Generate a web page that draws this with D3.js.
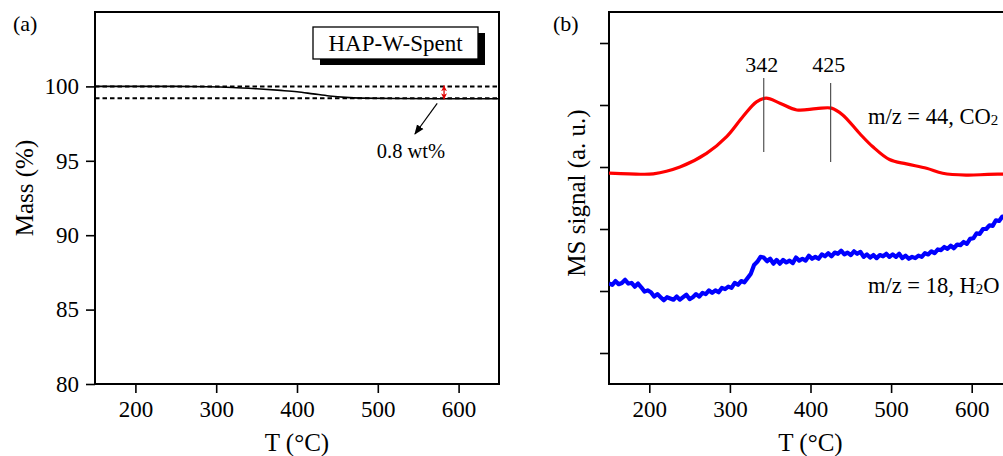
<!DOCTYPE html>
<html>
<head>
<meta charset="utf-8">
<script src="https://cdn.jsdelivr.net/npm/d3@7"></script>
<style>
  html, body { margin: 0; padding: 0; background: #fff; }
  svg { display: block; }
  text { font-family: "Liberation Serif", "Times New Roman", serif; fill: #000; }
</style>
</head>
<body>
<svg id="chart" width="1003" height="456"></svg>
<script>
// ---------------- DATA ----------------
const xTickValues = [200, 300, 400, 500, 600];
const massTickValues = [80, 85, 90, 95, 100];
const msTickValues = [1, 2, 3, 4, 5, 6];

// Panel (a): TGA mass curve
const massT = [150, 250, 290, 320, 350, 380, 400, 420, 440, 460, 480, 520, 600, 650];
const massV = [100.0, 100.0, 99.98, 99.93, 99.84, 99.73, 99.64, 99.50, 99.36, 99.26, 99.21, 99.19, 99.17, 99.17];
const massLevels = [100, 99.2];
const lossLabel = "0.8 wt%";
const sampleName = "HAP-W-Spent";

// Panel (b): MS signals
const co2T = [150, 175, 205, 238, 271, 296, 316, 333, 345, 362, 383, 407, 426, 440, 461, 477, 498, 519, 544, 564, 593, 620, 650];
const co2V = [3.90, 3.89, 3.89, 4.00, 4.22, 4.49, 4.81, 5.05, 5.11, 5.03, 4.92, 4.94, 4.95, 4.84, 4.54, 4.33, 4.12, 4.05, 3.98, 3.90, 3.87, 3.88, 3.89];

const h2oT = [150,154,158,162,166,170,174,178,182,186,190,194,198,202,206,210,214,218,222,226,
  230,234,238,242,246,250,254,258,262,266,270,274,278,282,286,290,294,298,302,306,310,314,318,
  322,326,330,334,338,342,346,350,354,358,362,366,370,374,378,382,386,390,394,398,402,406,410,
  414,418,422,426,430,434,438,442,446,450,454,458,462,466,470,474,478,482,486,490,494,498,502,
  506,510,514,518,522,526,530,534,538,542,546,550,554,558,562,566,570,574,578,582,586,590,594,
  598,602,606,610,614,618,622,626,630,634,638,642,646,650];
const h2oV = [2.12,2.10,2.16,2.11,2.13,2.18,2.12,2.13,2.07,2.12,2.06,1.99,2.01,1.98,1.91,1.95,1.90,1.85,1.90,1.88,
  1.86,1.91,1.86,1.90,1.94,1.87,1.90,1.95,1.91,1.97,1.95,2.01,1.97,2.01,1.98,2.05,2.03,2.07,2.05,2.13,2.10,2.16,2.14,
  2.21,2.28,2.42,2.47,2.55,2.54,2.48,2.52,2.44,2.50,2.44,2.50,2.46,2.49,2.45,2.54,2.49,2.52,2.49,2.57,2.52,2.55,2.52,
  2.59,2.56,2.61,2.56,2.62,2.60,2.65,2.59,2.62,2.58,2.64,2.60,2.63,2.55,2.59,2.54,2.58,2.53,2.58,2.56,2.60,2.55,2.59,
  2.55,2.60,2.53,2.57,2.52,2.55,2.53,2.57,2.55,2.61,2.59,2.64,2.61,2.67,2.66,2.71,2.68,2.73,2.69,2.75,2.74,2.79,2.76,
  2.84,2.85,2.93,2.92,3.00,3.00,3.06,3.05,3.14,3.13,3.20,3.19,3.27,3.26];

const peakTemps = [342, 425];
const co2Label = ["m/z = 44, CO", "2", ""];
const h2oLabel = ["m/z = 18, H", "2", "O"];

// ---------------- DRAWING ----------------
const svg = d3.select("#chart");
const tickFont = 23, titleFont = 25;

const defs = svg.append("defs");
defs.append("marker").attr("id", "redHead").attr("viewBox", "0 0 10 10")
  .attr("refX", 10).attr("refY", 5).attr("markerUnits", "userSpaceOnUse")
  .attr("markerWidth", 6).attr("markerHeight", 7)
  .attr("orient", "auto-start-reverse")
  .append("path").attr("d", "M0,0 L10,5 L0,10 L3,5 Z").attr("fill", "#e00000");
defs.append("marker").attr("id", "blackHead").attr("viewBox", "0 0 10 10")
  .attr("refX", 9).attr("refY", 5).attr("markerUnits", "userSpaceOnUse")
  .attr("markerWidth", 10).attr("markerHeight", 10)
  .attr("orient", "auto")
  .append("path").attr("d", "M0,1 L10,5 L0,9 Z").attr("fill", "#000");

function panel(opts) {
  const { left, right, top, bottom, xDomain, yDomain, yTicks, yLabels, clipId } = opts;
  const x = d3.scaleLinear().domain(xDomain).range([left, right]);
  const y = d3.scaleLinear().domain(yDomain).range([bottom, top]);
  const g = svg.append("g");

  defs.append("clipPath").attr("id", clipId)
    .append("rect").attr("x", left).attr("y", top).attr("width", right - left).attr("height", bottom - top);

  const xAxis = g.append("g").attr("transform", `translate(0,${bottom})`)
    .call(d3.axisBottom(x).tickValues(xTickValues).tickSize(9).tickSizeOuter(0).tickPadding(8));
  const yAxis = g.append("g").attr("transform", `translate(${left},0)`)
    .call(d3.axisLeft(y).tickValues(yTicks).tickSize(9).tickSizeOuter(0).tickPadding(7)
      .tickFormat(yLabels ? d3.format("d") : () => ""));
  [xAxis, yAxis].forEach(a => {
    a.select(".domain").remove();
    a.selectAll("line").attr("stroke", "#000").attr("stroke-width", 1.6);
    a.selectAll("text").attr("font-size", tickFont)
      .attr("font-family", '"Liberation Serif", "Times New Roman", serif').attr("fill", "#000");
  });

  g.append("rect").attr("x", left).attr("y", top).attr("width", right - left).attr("height", bottom - top)
    .attr("fill", "none").attr("stroke", "#000").attr("stroke-width", 2);

  const plot = svg.append("g").attr("clip-path", `url(#${clipId})`);
  return { x, y, g, plot };
}

// ----- Panel (a) -----
const A = panel({ left: 95, right: 499, top: 12, bottom: 384, xDomain: [150, 650], yDomain: [80, 105],
  yTicks: massTickValues, yLabels: true, clipId: "clipA" });

A.plot.selectAll("line.lvl").data(massLevels).join("line")
  .attr("x1", A.x(150)).attr("x2", A.x(650))
  .attr("y1", d => A.y(d)).attr("y2", d => A.y(d))
  .attr("stroke", "#000").attr("stroke-width", 2).attr("stroke-dasharray", "4.5,3");

A.plot.append("path")
  .datum(massT.map((t, i) => [t, massV[i]]))
  .attr("fill", "none").attr("stroke", "#000").attr("stroke-width", 1.6)
  .attr("d", d3.line().x(d => A.x(d[0])).y(d => A.y(d[1])).curve(d3.curveMonotoneX));

// red double arrow
svg.append("line")
  .attr("x1", A.x(582)).attr("x2", A.x(582))
  .attr("y1", A.y(massLevels[0]) - 1).attr("y2", A.y(massLevels[1]) + 1)
  .attr("stroke", "#e00000").attr("stroke-width", 1.3)
  .attr("marker-start", "url(#redHead)").attr("marker-end", "url(#redHead)");

// black arrow
svg.append("line")
  .attr("x1", A.x(573.5)).attr("y1", A.y(98.86))
  .attr("x2", A.x(546)).attr("y2", A.y(96.8))
  .attr("stroke", "#000").attr("stroke-width", 1.2).attr("marker-end", "url(#blackHead)");

svg.append("text").attr("x", A.x(541)).attr("y", A.y(95.2))
  .attr("text-anchor", "middle").attr("font-size", 20.5).text(lossLabel);

// legend box with shadow
const lg = svg.append("g");
lg.append("rect").attr("x", 320).attr("y", 33).attr("width", 165).attr("height", 32).attr("fill", "#000");
lg.append("rect").attr("x", 313).attr("y", 27).attr("width", 165).attr("height", 32)
  .attr("fill", "#fff").attr("stroke", "#000").attr("stroke-width", 1.3);
lg.append("text").attr("x", 395.5).attr("y", 50.5).attr("text-anchor", "middle")
  .attr("font-size", 23).text(sampleName);

// titles
svg.append("text").attr("x", 13).attr("y", 31).attr("font-size", 22).text("(a)");
svg.append("text").attr("x", 297).attr("y", 451).attr("text-anchor", "middle").attr("font-size", titleFont).text("T (°C)");
svg.append("text").attr("transform", "translate(33,188) rotate(-90)").attr("text-anchor", "middle")
  .attr("font-size", titleFont).text("Mass (%)");

// ----- Panel (b) -----
const B = panel({ left: 609, right: 1012, top: 12, bottom: 384, xDomain: [150, 650], yDomain: [0.5, 6.5],
  yTicks: msTickValues, yLabels: false, clipId: "clipB" });

B.plot.append("path")
  .datum(h2oT.map((t, i) => [t, h2oV[i]]))
  .attr("fill", "none").attr("stroke", "#0000ff").attr("stroke-width", 4.2).attr("stroke-linejoin", "round")
  .attr("d", d3.line().x(d => B.x(d[0])).y(d => B.y(d[1])));

B.plot.append("path")
  .datum(co2T.map((t, i) => [t, co2V[i]]))
  .attr("fill", "none").attr("stroke", "#ff0000").attr("stroke-width", 3.2)
  .attr("d", d3.line().x(d => B.x(d[0])).y(d => B.y(d[1])).curve(d3.curveCatmullRom));

// peak markers
const peakSpans = [[78, 152], [83, 162]];
peakTemps.forEach((t, i) => {
  svg.append("line").attr("x1", B.x(t)).attr("x2", B.x(t))
    .attr("y1", peakSpans[i][0]).attr("y2", peakSpans[i][1])
    .attr("stroke", "#444").attr("stroke-width", 1.1);
  svg.append("text").attr("x", B.x(t) - 2).attr("y", 72).attr("text-anchor", "middle")
    .attr("font-size", 22).text(t);
});

function subLabel(xp, yp, parts) {
  const t = svg.append("text").attr("x", xp).attr("y", yp).attr("font-size", 22.5);
  t.append("tspan").text(parts[0]);
  t.append("tspan").attr("font-size", 15).attr("dy", 1).text(parts[1]);
  if (parts[2]) t.append("tspan").attr("dy", -1).text(parts[2]);
}
subLabel(868, 124, co2Label);
subLabel(868, 293, h2oLabel);

svg.append("text").attr("x", 553).attr("y", 31).attr("font-size", 22).text("(b)");
svg.append("text").attr("x", B.x(400)).attr("y", 451).attr("text-anchor", "middle").attr("font-size", titleFont).text("T (°C)");
svg.append("text").attr("transform", "translate(585,193) rotate(-90)").attr("text-anchor", "middle")
  .attr("font-size", titleFont).text("MS signal (a. u.)");
</script>
</body>
</html>
